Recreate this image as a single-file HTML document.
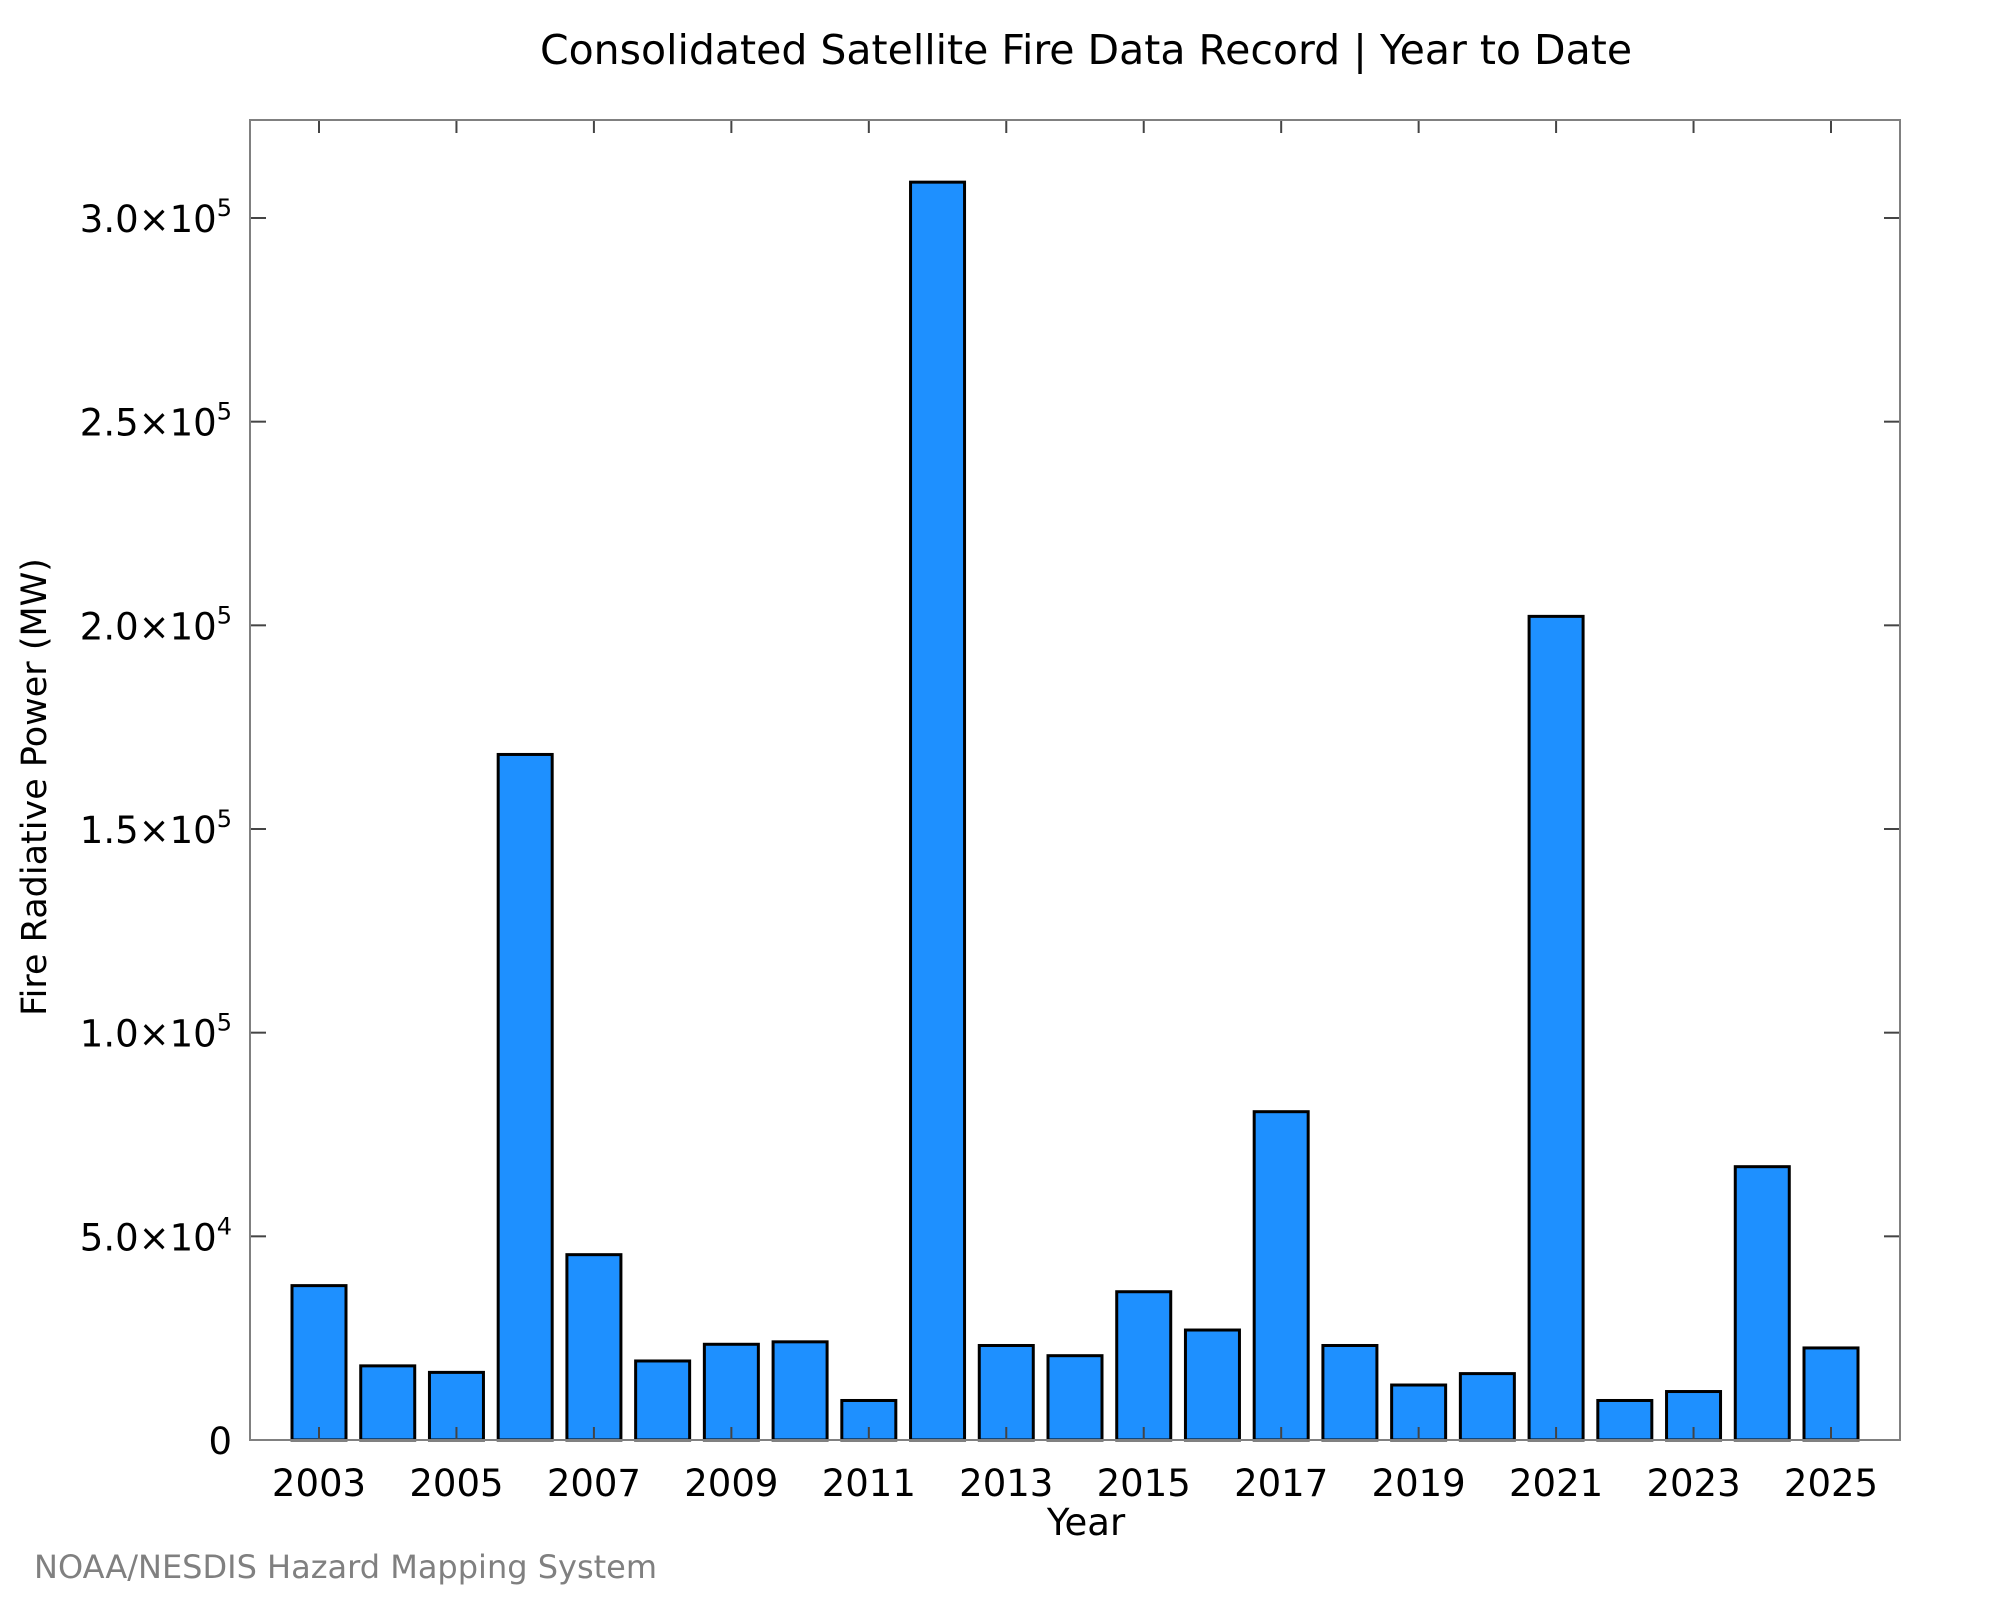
<!DOCTYPE html>
<html><head><meta charset="utf-8"><style>
html,body{margin:0;padding:0;background:#fff;}
svg text{font-family:"DejaVu Sans","Liberation Sans",sans-serif;}
</style></head><body>
<svg id="chart" width="2000" height="1600" viewBox="0 0 2000 1600" xmlns="http://www.w3.org/2000/svg">
<rect x="0" y="0" width="2000" height="1600" fill="#fff"/>
<text x="1086" y="64" font-size="41" text-anchor="middle">Consolidated Satellite Fire Data Record | Year to Date</text>
<g id="bars"></g>
<g id="ticks"></g>
<rect x="250" y="120" width="1650" height="1320" fill="none" stroke="#808080" stroke-width="2"/>
<text transform="translate(46,787) rotate(-90)" font-size="35" text-anchor="middle">Fire Radiative Power (MW)</text>
<text x="1086" y="1535" font-size="37" text-anchor="middle">Year</text>
<text x="34" y="1578" font-size="32" fill="#808080">NOAA/NESDIS Hazard Mapping System</text>
</svg>
<script>
const years = [2003,2004,2005,2006,2007,2008,2009,2010,2011,2012,2013,2014,2015,2016,2017,2018,2019,2020,2021,2022,2023,2024,2025];
const values = [37900,18200,16600,168300,45500,19400,23500,24100,9700,308800,23200,20700,36400,27000,80600,23200,13500,16300,202200,9700,11900,67100,22600];
const yTicks = [0,50000,100000,150000,200000,250000,300000];
const yTickMant = ["0","5.0","1.0","1.5","2.0","2.5","3.0"];
const yTickExp = ["","4","5","5","5","5","5"];
const xTickYears = [2003,2005,2007,2009,2011,2013,2015,2017,2019,2021,2023,2025];

const NS="http://www.w3.org/2000/svg";
const x0=319, dx=(1831-319)/22, yBase=1440, yPer=(1440-218)/300000;
const xScale = yr => x0 + (yr-2003)*dx;
const yScale = v => yBase - v*yPer;
const barsG=document.getElementById('bars'), ticksG=document.getElementById('ticks');
function mk(tag,attrs,parent){const e=document.createElementNS(NS,tag);for(const k in attrs)e.setAttribute(k,attrs[k]);parent.appendChild(e);return e;}
const bw=54;
years.forEach((yr,i)=>{
  const cx=xScale(yr), top=yScale(values[i]);
  const r=mk('rect',{x:cx-bw/2,y:top,width:bw,height:yBase-top,fill:'#1e90ff',stroke:'#000','stroke-width':3},barsG);
  
  
});
xTickYears.forEach(yr=>{
  const cx=xScale(yr);
  const t1=mk('line',{x1:cx,x2:cx,y1:yBase,y2:yBase-13,stroke:'#444','stroke-width':2},ticksG);
  
  
  const t2=mk('line',{x1:cx,x2:cx,y1:120,y2:133,stroke:'#444','stroke-width':2},ticksG);
  
  
  const tl=mk('text',{x:cx,y:1496,'font-size':37,'text-anchor':'middle'},ticksG);
  tl.textContent=String(yr);
  
  
});
yTicks.forEach((v,i)=>{
  const y=yScale(v);
  const a=mk('line',{x1:250,x2:266,y1:y,y2:y,stroke:'#444','stroke-width':2},ticksG);
  
  
  const b=mk('line',{x1:1884,x2:1900,y1:y,y2:y,stroke:'#444','stroke-width':2},ticksG);
  
  
  const t=mk('text',{x:232,y:y+14,'font-size':37,'text-anchor':'end'},ticksG);
  
  
  if(yTickExp[i]===""){t.textContent=yTickMant[i];}
  else{
    const s1=mk('tspan',{},t);s1.textContent=yTickMant[i]+"×10";
    const s2=mk('tspan',{'font-size':24,dy:-16},t);s2.textContent=yTickExp[i];
  }
});
</script>
</body></html>
